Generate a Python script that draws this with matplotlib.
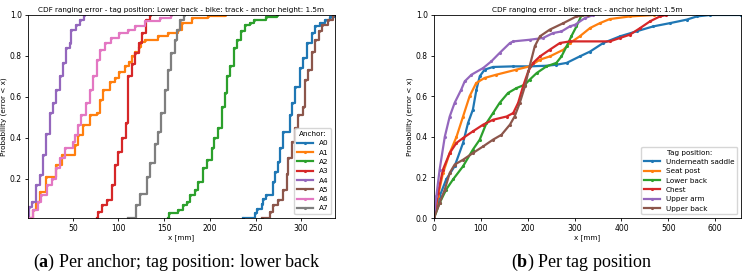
import matplotlib
matplotlib.use('Agg')
import matplotlib.pyplot as plt

plt.rcParams['mathtext.fontset'] = 'custom'
plt.rcParams['mathtext.rm'] = 'Liberation Serif'
plt.rcParams['mathtext.bf'] = 'Liberation Serif:bold'

# ---- (a) per anchor, tag on lower back: step positions [mm] and CDF level ----
anchors = ['A0', 'A1', 'A2', 'A3', 'A4', 'A5', 'A6', 'A7']

a0_x = [236.6, 249.6, 251.4, 257, 258.6, 262, 269.6, 271.5, 275, 277, 280.6, 288, 289.7, 293.4, 299, 302, 306, 311.6, 315, 321, 326, 332, 337]
a0_p = [0.008, 0.03, 0.054, 0.078, 0.10, 0.12, 0.184, 0.233, 0.282, 0.348, 0.43, 0.51, 0.569, 0.65, 0.74, 0.79, 0.863, 0.912, 0.944, 0.96, 0.977, 0.99, 1.0]

a1_x = [4, 6, 10, 14, 21, 32, 38, 52, 55.6, 61, 68.5, 76, 80, 83, 91, 96, 101, 107, 112, 115, 118, 122, 125, 129, 143.5, 154.5, 165.5, 169, 180, 198, 217]
a1_p = [0.008, 0.046, 0.086, 0.135, 0.21, 0.266, 0.315, 0.364, 0.413, 0.462, 0.51, 0.52, 0.585, 0.634, 0.675, 0.69, 0.72, 0.75, 0.77, 0.80, 0.82, 0.846, 0.87, 0.879, 0.895, 0.91, 0.928, 0.96, 0.985, 0.993, 1.0]

a2_x = [154.5, 155, 165.5, 171, 174.7, 178.3, 184, 187.4, 193, 196.5, 202, 205, 209, 212.8, 216.5, 219, 222, 226, 230, 234, 238, 244, 248, 262, 274]
a2_p = [0.008, 0.03, 0.046, 0.07, 0.086, 0.12, 0.144, 0.184, 0.25, 0.29, 0.348, 0.40, 0.446, 0.55, 0.62, 0.70, 0.75, 0.838, 0.879, 0.92, 0.952, 0.962, 0.977, 0.99, 1.0]

a3_x = [76, 78, 81.5, 87, 92.5, 96, 100, 103.5, 108, 110, 115, 118, 122, 126, 130, 134]
a3_p = [0.008, 0.037, 0.07, 0.095, 0.168, 0.266, 0.33, 0.40, 0.47, 0.70, 0.76, 0.813, 0.863, 0.91, 0.977, 1.0]

a4_x = [1.0, 1.8, 5.4, 10, 14, 17.4, 21, 25, 28, 32, 36, 39, 43, 47, 48.6, 54, 58, 62]
a4_p = [0.008, 0.062, 0.086, 0.168, 0.217, 0.315, 0.42, 0.52, 0.569, 0.634, 0.70, 0.765, 0.838, 0.863, 0.928, 0.952, 0.975, 1.0]

a5_x = [257, 266, 269.6, 275, 280.6, 284, 286, 289.7, 293.4, 297, 302, 304, 307.5, 311.6, 315, 319, 322.6, 329, 335]
a5_p = [0.008, 0.037, 0.07, 0.095, 0.144, 0.225, 0.30, 0.38, 0.446, 0.51, 0.552, 0.683, 0.73, 0.82, 0.879, 0.92, 0.952, 0.977, 1.0]

a6_x = [2, 6.6, 12, 15.6, 21.5, 27, 32, 36, 41, 50.4, 52, 56, 59.5, 65, 68.6, 72, 76, 79.6, 85, 92, 101, 110, 118, 129, 145, 158]
a6_p = [0.008, 0.046, 0.086, 0.12, 0.168, 0.20, 0.25, 0.30, 0.348, 0.38, 0.413, 0.462, 0.51, 0.569, 0.634, 0.70, 0.78, 0.83, 0.863, 0.887, 0.912, 0.928, 0.944, 0.969, 0.985, 1.0]

a7_x = [110, 119.7, 123.5, 130.8, 134, 140, 143.5, 147, 150.6, 154, 158, 162, 163.7, 167, 172]
a7_p = [0.008, 0.07, 0.127, 0.21, 0.275, 0.372, 0.43, 0.52, 0.634, 0.73, 0.813, 0.879, 0.928, 0.977, 1.0]

anchor_x = [a0_x, a1_x, a2_x, a3_x, a4_x, a5_x, a6_x, a7_x]
anchor_p = [a0_p, a1_p, a2_p, a3_p, a4_p, a5_p, a6_p, a7_p]

# ---- (b) per tag position ----
tags = ['Underneath saddle', 'Seat post', 'Lower back', 'Chest', 'Upper arm', 'Upper back']

saddle_x = [0, 12, 26, 44, 62, 72.6, 83, 90.5, 97.6, 108, 126, 169, 204, 240, 261, 283, 311, 333, 361, 397, 432.5, 468, 503.6, 539, 560.7, 589, 655]
saddle_p = [0, 0.107, 0.19, 0.255, 0.37, 0.468, 0.534, 0.632, 0.698, 0.731, 0.744, 0.747, 0.747, 0.75, 0.755, 0.764, 0.796, 0.82, 0.862, 0.895, 0.92, 0.944, 0.96, 0.977, 0.993, 1.0, 1.0]

seat_x = [0, 8.5, 19, 33.5, 48, 62, 76, 90, 108, 133, 176, 204, 226, 247, 276, 290, 311, 333, 354, 375, 418, 470]
seat_p = [0, 0.107, 0.22, 0.32, 0.40, 0.50, 0.60, 0.665, 0.69, 0.706, 0.731, 0.747, 0.78, 0.796, 0.829, 0.862, 0.895, 0.936, 0.96, 0.98, 0.993, 1.0]

lowback_x = [0, 12, 26, 40.6, 62, 83, 97.6, 112, 126, 140, 158, 176, 194, 204, 219, 240, 261, 272, 283, 293, 304, 315]
lowback_p = [0, 0.074, 0.14, 0.19, 0.255, 0.337, 0.386, 0.468, 0.517, 0.567, 0.616, 0.64, 0.657, 0.681, 0.714, 0.747, 0.764, 0.796, 0.846, 0.895, 0.944, 1.0]

chest_x = [0, 8.5, 19, 33.5, 48, 62, 83, 105, 126, 155, 169, 179.5, 190, 201, 211.5, 226, 247, 268.5, 290, 375, 397, 418, 440, 461, 482, 496]
chest_p = [0, 0.123, 0.238, 0.32, 0.37, 0.394, 0.427, 0.46, 0.484, 0.50, 0.517, 0.567, 0.649, 0.722, 0.764, 0.796, 0.829, 0.862, 0.87, 0.87, 0.887, 0.903, 0.936, 0.969, 0.993, 1.0]

arm_x = [0, 5, 12, 23, 33.5, 44, 58, 65.5, 80, 105, 122.5, 140, 162, 169, 204, 233, 254, 272, 290, 301, 322, 340]
arm_p = [0, 0.107, 0.238, 0.40, 0.50, 0.567, 0.632, 0.673, 0.706, 0.739, 0.772, 0.813, 0.862, 0.870, 0.878, 0.887, 0.911, 0.919, 0.944, 0.952, 0.985, 1.0]

upback_x = [0, 12, 23, 33.5, 44, 62, 83, 105, 126, 144, 162, 172, 183, 194, 204, 215, 226, 247, 276, 304, 328]
upback_p = [0, 0.074, 0.14, 0.222, 0.263, 0.287, 0.32, 0.353, 0.386, 0.41, 0.46, 0.50, 0.567, 0.649, 0.747, 0.846, 0.895, 0.928, 0.96, 0.993, 1.0]

tag_x = [saddle_x, seat_x, lowback_x, chest_x, arm_x, upback_x]
tag_p = [saddle_p, seat_p, lowback_p, chest_p, arm_p, upback_p]

W, H = 747, 278
fig = plt.figure(figsize=(W / 100, H / 100), dpi=100)
ax1 = fig.add_axes([28 / W, 60 / H, 307 / W, 203 / H])
ax2 = fig.add_axes([434 / W, 60 / H, 307 / W, 203 / H])

fs = 5.2
for i in range(len(anchors)):
    ax1.plot(anchor_x[i], anchor_p[i], '.-', drawstyle='steps-post', lw=1.6, ms=2.5, label=anchors[i])
ax1.margins(x=0, y=0)
ax1.set_yticks([0.2, 0.4, 0.6, 0.8, 1.0])
ax1.set_xticks([50, 100, 150, 200, 250, 300])
ax1.set_title('CDF ranging error - tag position: Lower back - bike: track - anchor height: 1.5m', fontsize=fs, pad=2.5)
ax1.legend(title='Anchor:', loc='lower right', fontsize=fs, title_fontsize=fs, handlelength=2.2, labelspacing=0.45)

for i in range(len(tags)):
    ax2.plot(tag_x[i], tag_p[i], '.-', lw=1.6, ms=2.5, label=tags[i])
ax2.set_xlim(0, 655)
ax2.set_ylim(0, 1.0)
ax2.set_title('CDF ranging error - bike: track - anchor height: 1.5m', fontsize=fs, pad=2.5)
ax2.legend(title='Tag position:', loc='lower right', fontsize=fs, title_fontsize=fs, handlelength=2.2, labelspacing=0.45)

for ax in (ax1, ax2):
    ax.tick_params(labelsize=5.5, length=2.5, width=0.6, pad=2)
    ax.set_xlabel('x [mm]', fontsize=fs, labelpad=1)
    ax.set_ylabel('Probability (error < x)', fontsize=fs, labelpad=2)
    for s in ax.spines.values():
        s.set_linewidth(0.6)

fig.text(177 / W, 1 - 262 / H, r'($\mathbf{a}$) Per anchor; tag position: lower back',
         family='Liberation Serif', fontsize=13, ha='center', va='center')
fig.text(582 / W, 1 - 262 / H, r'($\mathbf{b}$) Per tag position',
         family='Liberation Serif', fontsize=13, ha='center', va='center')

fig.savefig('out.png', dpi=100)
